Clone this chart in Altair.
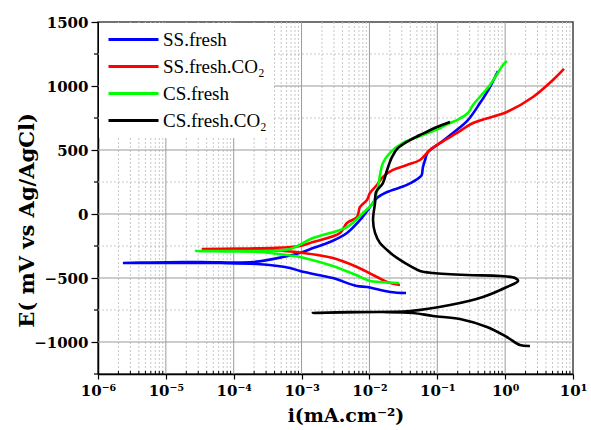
import altair as alt
import pandas as pd

# ---------------- data ----------------
series = ["SS.fresh", "SS.fresh.CO₂", "CS.fresh", "CS.fresh.CO₂"]
colors = ["#0000ff", "#ff0000", "#00ff00", "#000000"]

ss_fresh_i = [3.46e-2, 2.01e-2, 9.2e-3, 6.56e-3, 2.90e-3, 2.07e-3, 9.5e-4, 6.75e-4, 2.2e-4, 6.28e-5,
              1.61e-5, 5.83e-6, 2.33e-6, 5.83e-6, 3.18e-5, 1.92e-4, 5.32e-4, 1.05e-3, 1.47e-3, 2.62e-3,
              4.67e-3, 7.26e-3, 1.02e-2, 1.29e-2, 1.82e-2, 3.57e-2, 5.56e-2, 5.9e-2, 6.15e-2, 6.6e-2,
              7.3e-2, 0.110, 0.170, 0.283, 0.426, 0.598, 0.783]
ss_fresh_E = [-617, -609, -570, -563, -500, -484, -445, -422, -391, -383,
              -383, -383, -383, -379, -375, -375, -336, -297, -266, -219,
              -148, -47, 55, 125, 172, 227, 289, 305, 367, 422,
              484, 555, 633, 734, 867, 992, 1117]

ss_co2_i = [2.82e-2, 1.82e-2, 1.29e-2, 6.56e-3, 2.90e-3, 9.5e-4, 3.43e-4, 1.24e-4, 3.52e-5, 1.24e-4,
            3.43e-4, 9.5e-4, 1.47e-3, 3.68e-3, 4.67e-3, 6.56e-3, 7.26e-3, 9.2e-3, 1.02e-2, 1.29e-2,
            1.58e-2, 2.22e-2, 3.57e-2, 5.56e-2, 7.8e-2, 0.110, 0.195, 0.336, 1.06, 2.57, 5.07, 7.36]
ss_co2_E = [-555, -531, -492, -414, -344, -301, -281, -273, -273, -270,
            -266, -250, -219, -148, -70, -23, 55, 109, 164, 227,
            289, 344, 383, 422, 500, 555, 633, 711, 797, 914, 1047, 1133]

cs_fresh_i = [2.73e-2, 1.43e-2, 1.02e-2, 6.56e-3, 2.90e-3, 2.07e-3, 9.5e-4, 6.75e-4, 2.44e-4, 8.8e-5,
              2.78e-5, 8.8e-5, 2.44e-4, 6.75e-4, 1.47e-3, 4.67e-3, 8.03e-3, 1.13e-2, 1.34e-2, 1.43e-2,
              1.58e-2, 2.01e-2, 3.13e-2, 6.15e-2, 0.110, 0.154, 0.195, 0.283, 0.336, 0.598, 0.929, 1.06]
cs_fresh_E = [-539, -531, -523, -480, -406, -383, -336, -324, -297, -293,
              -289, -289, -289, -273, -188, -102, 8, 86, 211, 305,
              398, 477, 555, 617, 672, 711, 734, 789, 852, 1008, 1164, 1195]

cs_co2_i = [2.32, 1.65, 1.06, 0.540, 0.216, 8.65e-2, 4.39e-2, 1.58e-2, 1.47e-3, 5.16e-3,
            3.96e-2, 0.154, 0.471, 1.06, 1.55, 1.40, 0.839, 0.274, 8.65e-2, 5.56e-2,
            3.96e-2, 2.82e-2, 2.22e-2, 1.82e-2, 1.43e-2, 1.21e-2, 1.13e-2, 1.21e-2, 1.25e-2, 1.58e-2,
            1.82e-2, 2.15e-2, 2.64e-2, 3.96e-2, 5.56e-2, 9.9e-2, 0.154]
cs_co2_E = [-1031, -1023, -961, -883, -820, -797, -773, -766, -773, -766,
            -758, -711, -648, -570, -523, -500, -484, -477, -461, -445,
            -406, -359, -320, -281, -227, -148, -47, 86, 172, 242,
            344, 445, 516, 578, 617, 680, 719]

x_ticks = [1e-6, 1e-5, 1e-4, 1e-3, 1e-2, 1e-1, 1e0, 1e1]
x_tick_labels = ["10⁻⁶", "10⁻⁵", "10⁻⁴", "10⁻³", "10⁻²", "10⁻¹", "10⁰", "10¹"]
x_minor = [m * d for d in x_ticks[:-1] for m in range(2, 10)]
y_ticks = [-1000, -500, 0, 500, 1000, 1500]
y_minor = [-1250, -750, -250, 250, 750, 1250]

# ---------------- build table ----------------
rows = []
for name, xs, ys in zip(series,
                        [ss_fresh_i, ss_co2_i, cs_fresh_i, cs_co2_i],
                        [ss_fresh_E, ss_co2_E, cs_fresh_E, cs_co2_E]):
    for k, (a, b) in enumerate(zip(xs, ys)):
        rows.append({"series": name, "i": a, "E": b, "k": k})
df = pd.DataFrame(rows)

W, H = 475, 352
FONT = "Liberation Serif"
AFONT = "DejaVu Serif"
xscale = alt.Scale(type="log", domain=[1e-6, 10], nice=False)
yscale = alt.Scale(domain=[-1250, 1500], nice=False, zero=False)

label_expr = "[" + ",".join("'%s'" % s for s in x_tick_labels) + "][round(log(datum.value)/LN10)+6]"

x_axis = alt.Axis(values=x_ticks, labelExpr=label_expr, grid=False,
                  labelFont=AFONT, labelFontWeight="bold", labelFontSize=15,
                  labelColor="black", labelPadding=4, labelFlush=False,
                  tickColor="black", tickSize=5, tickWidth=1.2,
                  domainColor="black", domainWidth=1.5,
                  title="i(mA.cm⁻²)", titleFont=AFONT, titleFontWeight="bold",
                  titleFontSize=19, titleColor="black",
                  titleX=W / 2 + 10, titleY=41, titleBaseline="middle", titleAlign="center")
y_axis = alt.Axis(values=y_ticks, grid=False, format="d",
                  labelFont=AFONT, labelFontWeight="bold", labelFontSize=15,
                  labelColor="black", labelPadding=3, labelFlush=False,
                  tickColor="black", tickSize=7, tickWidth=1.2,
                  domainColor="black", domainWidth=1.5,
                  title="E( mV vs Ag/AgCl)", titleFont=AFONT, titleFontWeight="bold",
                  titleFontSize=21, titleColor="black", titleAngle=270,
                  titleX=-71, titleY=H / 2 + 22, titleBaseline="middle", titleAlign="center")

# grids
minor_vx = alt.Chart(pd.DataFrame({"v": x_minor})).mark_rule(
    color="#c8c8c8", strokeWidth=1, strokeDash=[2, 2]
).encode(x=alt.X("v:Q", scale=xscale, axis=x_axis), y=alt.value(0), y2=alt.value(H))

minor_hy = alt.Chart(pd.DataFrame({"v": y_minor[1:]})).mark_rule(
    color="#c8c8c8", strokeWidth=1, strokeDash=[2, 2]
).encode(y=alt.Y("v:Q", scale=yscale, axis=y_axis), x=alt.value(0), x2=alt.value(W))

major_vx = alt.Chart(pd.DataFrame({"v": x_ticks[1:-1]})).mark_rule(
    color="#9a9a9a", strokeWidth=1
).encode(x=alt.X("v:Q", scale=xscale, axis=x_axis), y=alt.value(0), y2=alt.value(H))

major_hy = alt.Chart(pd.DataFrame({"v": y_ticks[:-1]})).mark_rule(
    color="#9a9a9a", strokeWidth=1
).encode(y=alt.Y("v:Q", scale=yscale, axis=y_axis), x=alt.value(0), x2=alt.value(W))

lines = alt.Chart(df).mark_line(strokeWidth=2.6, interpolate="catmull-rom").encode(
    x=alt.X("i:Q", scale=xscale, axis=x_axis),
    y=alt.Y("E:Q", scale=yscale, axis=y_axis),
    color=alt.Color("series:N", scale=alt.Scale(domain=series, range=colors),
                    legend=alt.Legend(title=None, orient="top-left", offset=1, padding=7,
                                      fillColor="white", symbolType="M-5,0L5,0", symbolSize=100,
                                      symbolStrokeWidth=3, symbolOffset=18,
                                      labelFont=FONT, labelFontSize=19,
                                      labelColor="black", rowPadding=7, labelLimit=300,
                                      labelOffset=20)),
    order="k:Q",
)

minor_tx = alt.Chart(pd.DataFrame({"v": x_minor})).mark_rule(color="black", strokeWidth=1).encode(
    x=alt.X("v:Q", scale=xscale, axis=x_axis), y=alt.value(H - 3), y2=alt.value(H))

minor_ty = alt.Chart(pd.DataFrame({"v": y_minor})).mark_rule(color="black", strokeWidth=1.2).encode(
    y=alt.Y("v:Q", scale=yscale, axis=y_axis), x=alt.value(-4), x2=alt.value(0))

chart = alt.layer(minor_vx, minor_hy, major_vx, major_hy, lines, minor_tx, minor_ty).properties(
    width=W, height=H,
    autosize=alt.AutoSizeParams(type="none"),
    padding={"left": 98, "top": 22, "right": 18, "bottom": 56},
    background="white",
).configure_view(stroke="#444444", strokeWidth=1.5)

chart.save("out.html", embed_options={"renderer": "svg", "actions": False})
